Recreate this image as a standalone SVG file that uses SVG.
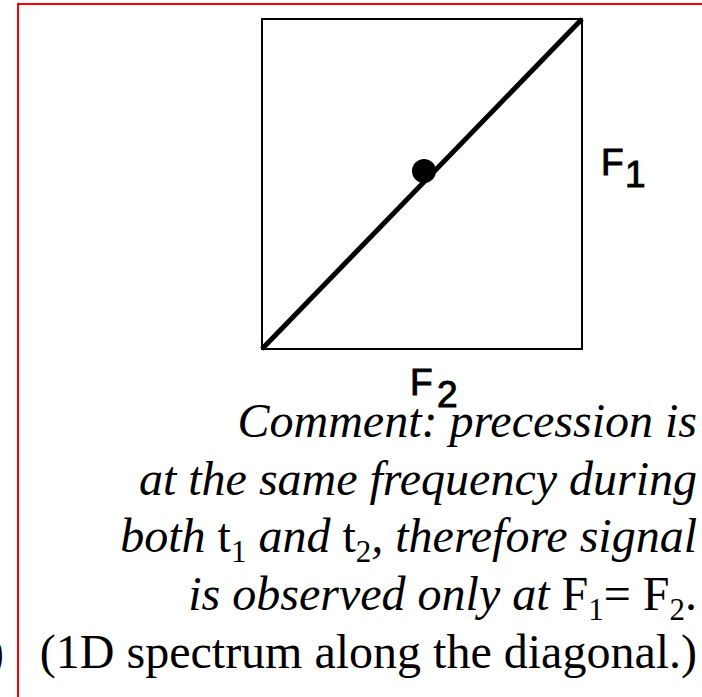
<svg xmlns="http://www.w3.org/2000/svg" width="702" height="697" viewBox="0 0 702 697">
<style>
.lbl{font-family:"Liberation Sans",Arial,sans-serif;font-size:37px;fill:#000;stroke:#000;stroke-width:1}
.txt{font-family:"Liberation Serif","Times New Roman",serif;font-size:48px;fill:#000}
.it{font-style:italic}
.sub{font-size:31px;font-style:normal}
</style>
<rect width="702" height="697" fill="#fff"/>
<g id="frame" fill="none" stroke="#f00" stroke-width="2">
<path d="M18 697V4H702"/>
</g>
<g id="plot">
<rect x="262" y="19" width="320" height="330" fill="none" stroke="#000" stroke-width="2"/>
</g>
<g id="connectors">
<line x1="262" y1="349" x2="582" y2="19" stroke="#000" stroke-width="5"/>
</g>
<g id="peak">
<circle cx="424" cy="171" r="12" fill="#000"/>
</g>
<g id="label-F1">
<text class="lbl"><tspan x="601" y="175">F</tspan><tspan x="625" y="187">1</tspan></text>
</g>
<g id="label-F2">
<text class="lbl"><tspan x="410" y="395">F</tspan><tspan x="437" y="407">2</tspan></text>
</g>
<g id="comment" text-anchor="end">
<text class="txt it" x="697" y="437">Comment: precession is</text>
<text class="txt it" x="697" y="495">at the same frequency during</text>
<text class="txt it" x="697" y="552">both <tspan font-style="normal">t</tspan><tspan class="sub" dy="10">1</tspan><tspan dy="-10"> and </tspan><tspan font-style="normal">t</tspan><tspan class="sub" dy="10">2</tspan><tspan dy="-10">, therefore signal</tspan></text>
<text class="txt it" x="697" y="610">is observed only at <tspan font-style="normal">F</tspan><tspan class="sub" dy="10">1</tspan><tspan font-style="normal" dy="-10">= F</tspan><tspan class="sub" dy="10">2</tspan><tspan font-style="normal" dy="-10">.</tspan></text>
<text class="txt" x="697" y="668">(1D spectrum along the diagonal.)</text>
</g>
<text class="txt" x="-12" y="668">)</text>
</svg>
